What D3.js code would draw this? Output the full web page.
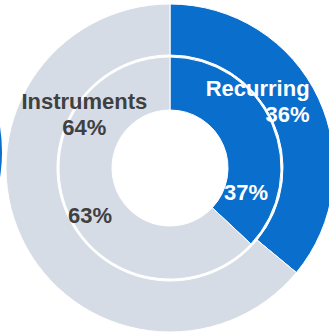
<!DOCTYPE html>
<html lang="en">
<head>
<meta charset="utf-8">
<script src="https://cdn.jsdelivr.net/npm/d3@7"></script>
<style>
  html, body { margin: 0; padding: 0; background: #fff; }
  svg { display: block; }
  text { font-family: "Liberation Sans", Arial, sans-serif; font-weight: bold; }
</style>
</head>
<body>
<div id="chart"></div>
<script>
    let w = 329
    let h = 333

    // data
    let categories = ['Recurring', 'Instruments']
    let outerValues = [36, 64]
    let innerValues = [37, 63]
    let colors = ['#0a6ecc', '#d6dce6']
    let textColors = ['#ffffff', '#404040']

    let cx = 170, cy = 168
    let rings = {
        inner: { r0: 58, r1: 111 },
        outer: { r0: 113, r1: 164 }
    }

    let pie = d3.pie().sort(null).value(d => d)

    let svg = d3.select('#chart')
        .append('svg')
        .attr('width', w)
        .attr('height', h)

    // sliver of neighbouring chart on the left edge
    let neighbour = d3.arc().innerRadius(113).outerRadius(164)
        .startAngle(0).endAngle(Math.PI * 0.72)
    svg.append('path')
        .attr('transform', 'translate(-162,152)')
        .attr('d', neighbour)
        .attr('fill', colors[0])

    let g = svg.append('g')
        .attr('transform', 'translate(' + cx + ',' + cy + ')')

    function drawRing(values, ring) {
        let arc = d3.arc().innerRadius(ring.r0).outerRadius(ring.r1)
        g.append('g')
            .selectAll('path')
            .data(pie(values))
            .join('path')
            .attr('d', arc)
            .attr('fill', (d, i) => colors[i])
            .attr('stroke', '#fff')
            .attr('stroke-width', 1)
        return arc
    }

    drawRing(outerValues, rings.outer)
    drawRing(innerValues, rings.inner)

    // label placement: angle (fraction of a turn) and radius per label
    function polar(frac, r) {
        let a = frac * 2 * Math.PI
        return [r * Math.sin(a), -r * Math.cos(a)]
    }

    let fs = 22
    let lineGap = 26
    // outer labels
    let pRec = polar(0.1744, 157)
    let recLabel = g.append('text')
        .attr('x', pRec[0])
        .attr('y', pRec[1])
        .attr('text-anchor', 'end')
        .attr('fill', textColors[0])
        .attr('font-size', fs)
    recLabel.append('tspan').text(categories[0])
    recLabel.append('tspan')
        .attr('x', pRec[0])
        .attr('dy', lineGap)
        .text(outerValues[0] + '%')

    let pIns = polar(0.846, 104)
    let insLabel = g.append('text')
        .attr('x', pIns[0])
        .attr('y', pIns[1])
        .attr('text-anchor', 'middle')
        .attr('fill', textColors[1])
        .attr('font-size', fs)
    insLabel.append('tspan').text(categories[1])
    insLabel.append('tspan')
        .attr('x', pIns[0])
        .attr('dy', lineGap)
        .text(outerValues[1] + '%')

    // inner labels
    let innerPos = [polar(0.3, 80), polar(0.665, 93)]
    g.selectAll('text.inner')
        .data(innerValues)
        .join('text')
        .attr('class', 'inner')
        .attr('x', (d, i) => innerPos[i][0])
        .attr('y', (d, i) => innerPos[i][1])
        .attr('dy', '0.35em')
        .attr('text-anchor', 'middle')
        .attr('fill', (d, i) => textColors[i])
        .attr('font-size', fs)
        .text(d => d + '%')
</script>
</body>
</html>
